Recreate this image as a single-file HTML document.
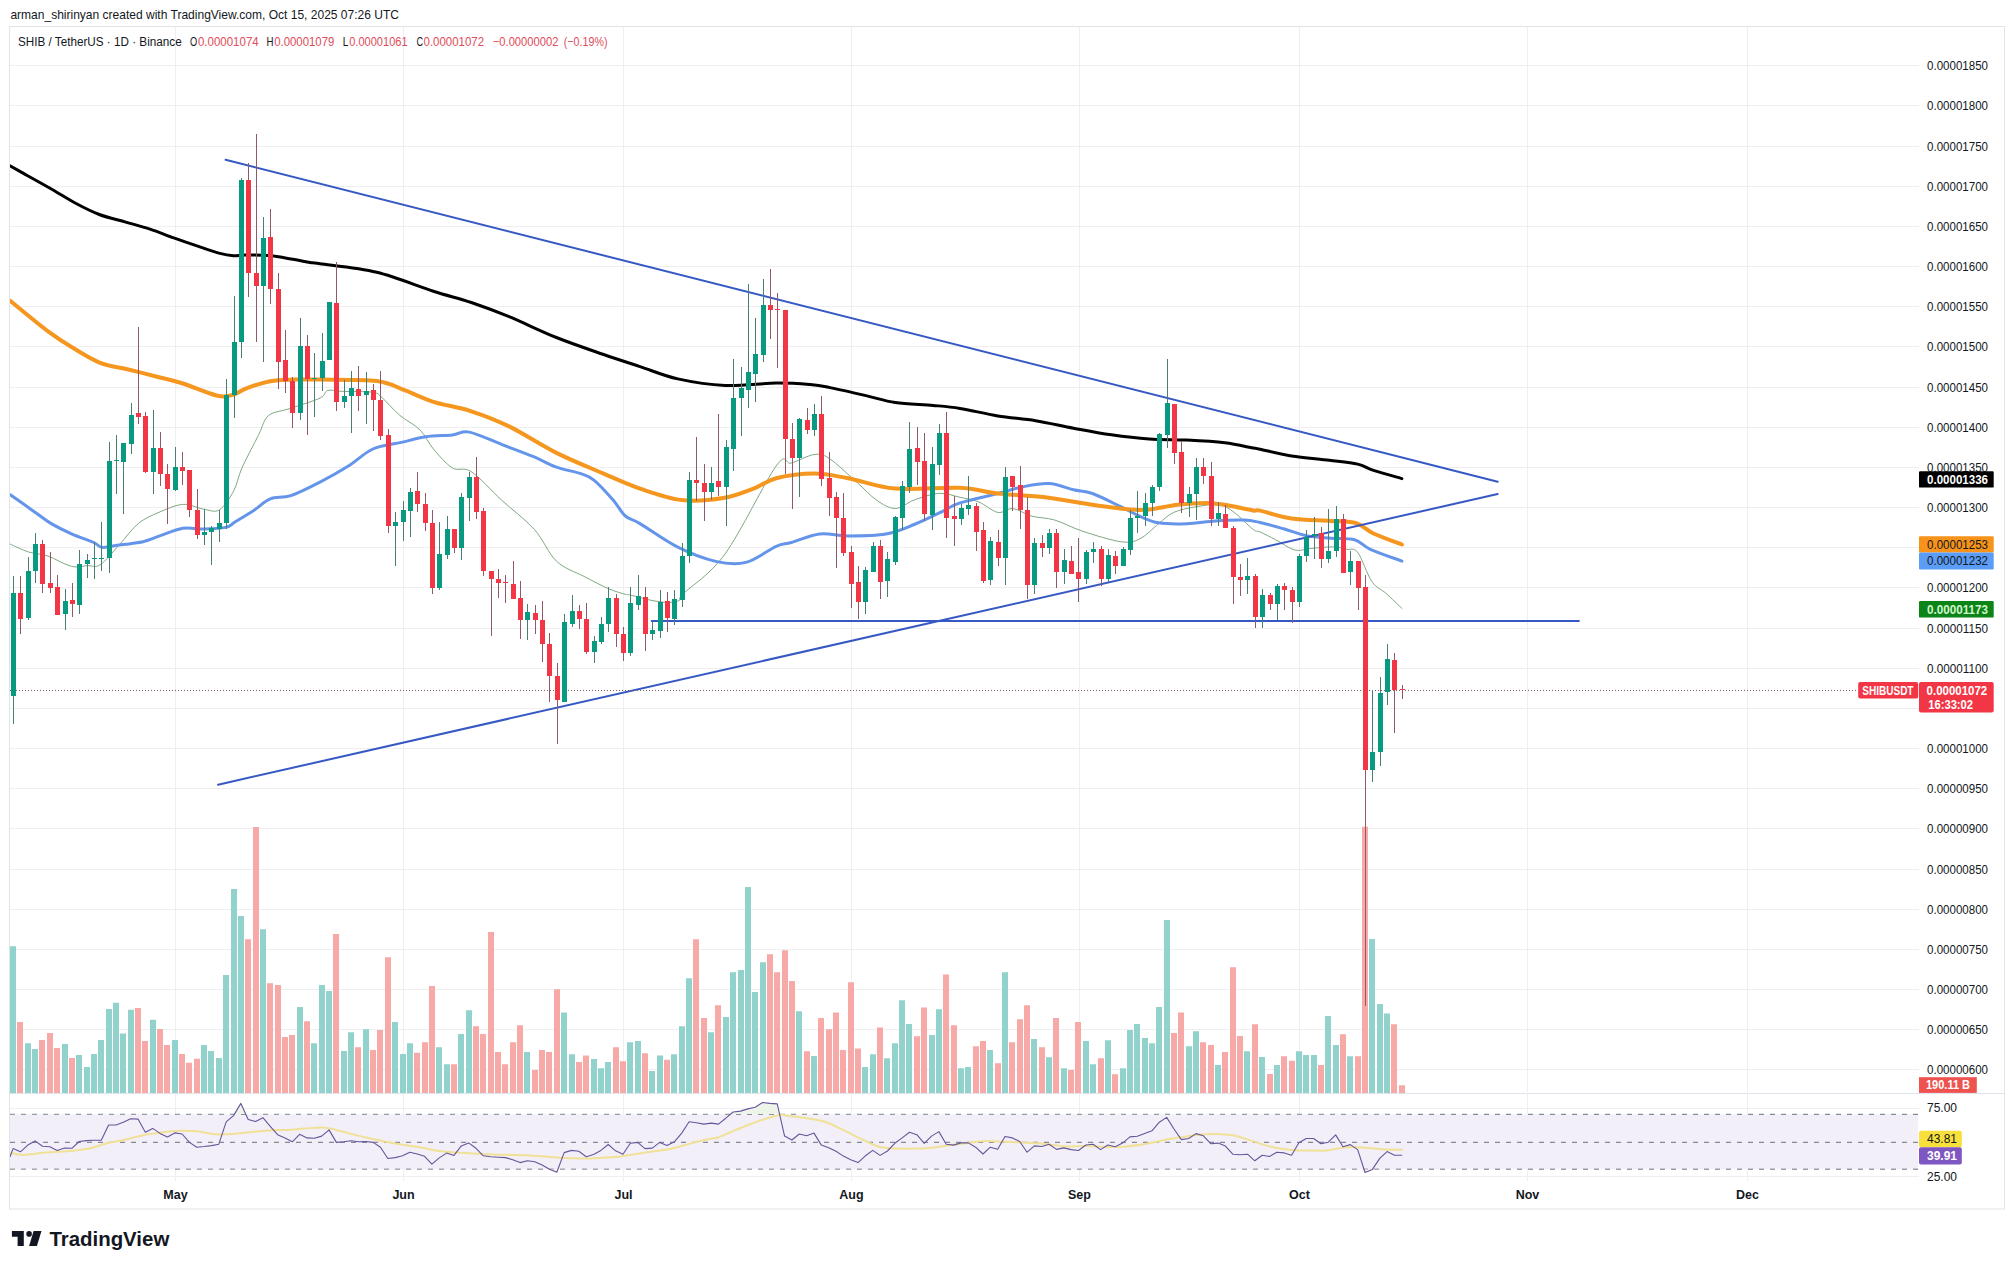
<!DOCTYPE html>
<html><head><meta charset="utf-8"><title>SHIBUSDT chart</title>
<style>html,body{margin:0;padding:0;background:#fff;width:2014px;height:1269px;overflow:hidden;position:relative;font-family:"Liberation Sans",sans-serif}</style>
</head><body>
<svg width="2014" height="1269" viewBox="0 0 2014 1269" style="position:absolute;left:0;top:0;font-family:'Liberation Sans', sans-serif">
<rect x="0" y="0" width="2014" height="1269" fill="#ffffff"/>
<defs><clipPath id="cp"><rect x="10" y="27" width="1908" height="1066"/></clipPath><clipPath id="cr"><rect x="10" y="1094" width="1908" height="86"/></clipPath></defs>
<rect x="9.5" y="26.5" width="1995" height="1182.5" fill="none" stroke="#e2e3e7" stroke-width="1"/>
<path d="M10,1069.5 H1919 M10,1029.5 H1919 M10,989.5 H1919 M10,949.5 H1919 M10,909.5 H1919 M10,869.5 H1919 M10,828.5 H1919 M10,788.5 H1919 M10,748.5 H1919 M10,708.5 H1919 M10,668.5 H1919 M10,628.5 H1919 M10,587.5 H1919 M10,547.5 H1919 M10,507.5 H1919 M10,467.5 H1919 M10,427.5 H1919 M10,387.5 H1919 M10,346.5 H1919 M10,306.5 H1919 M10,266.5 H1919 M10,226.5 H1919 M10,186.5 H1919 M10,146.5 H1919 M10,105.5 H1919 M10,65.5 H1919 M10,1108.5 H1919 M10,1176.5 H1919 M175.5,27 V1092 M175.5,1094 V1181 M403.5,27 V1092 M403.5,1094 V1181 M623.5,27 V1092 M623.5,1094 V1181 M851.5,27 V1092 M851.5,1094 V1181 M1079.5,27 V1092 M1079.5,1094 V1181 M1299.5,27 V1092 M1299.5,1094 V1181 M1527.5,27 V1092 M1527.5,1094 V1181 M1747.5,27 V1092 M1747.5,1094 V1181" stroke="#efeff2" stroke-width="1" fill="none"/>
<path d="M10,1093.5 H2004" stroke="#e0e3eb" stroke-width="1"/>
<rect x="10" y="1114.3" width="1908" height="54.9" fill="#f2eff9"/>
<path d="M10,1114.3 H1918" stroke="#6c6f7a" stroke-width="1" stroke-dasharray="5,6"/>
<path d="M10,1142.3 H1918" stroke="#6c6f7a" stroke-width="1" stroke-dasharray="5,6"/>
<path d="M10,1169.2 H1918" stroke="#6c6f7a" stroke-width="1" stroke-dasharray="5,6"/>
<path d="M10,946.2 H16 V1093 H10 Z M25,1043.3 H31 V1093 H25 Z M32,1049 H38 V1093 H32 Z M62,1044 H68 V1093 H62 Z M76,1055 H82 V1093 H76 Z M84,1067.1 H90 V1093 H84 Z M91,1053.9 H97 V1093 H91 Z M98,1040 H104 V1093 H98 Z M106,1009.1 H112 V1093 H106 Z M113,1002.7 H119 V1093 H113 Z M120,1033.6 H126 V1093 H120 Z M128,1009.8 H134 V1093 H128 Z M150,1019.7 H156 V1093 H150 Z M172,1040 H178 V1093 H172 Z M201,1045.1 H207 V1093 H201 Z M208,1051 H214 V1093 H208 Z M216,1057.9 H222 V1093 H216 Z M223,974.9 H229 V1093 H223 Z M231,889.1 H237 V1093 H231 Z M238,916 H244 V1093 H238 Z M260,929.2 H266 V1093 H260 Z M297,1007.1 H303 V1093 H297 Z M311,1043.3 H317 V1093 H311 Z M319,985 H325 V1093 H319 Z M326,991 H332 V1093 H326 Z M341,1051 H347 V1093 H341 Z M348,1032.3 H354 V1093 H348 Z M363,1029.2 H369 V1093 H363 Z M392,1021.9 H398 V1093 H392 Z M400,1053.9 H406 V1093 H400 Z M407,1043.3 H413 V1093 H407 Z M436,1047.3 H442 V1093 H436 Z M444,1064.3 H450 V1093 H444 Z M458,1034 H464 V1093 H458 Z M466,1010.2 H472 V1093 H466 Z M524,1052.1 H530 V1093 H524 Z M561,1012.4 H567 V1093 H561 Z M569,1054.3 H575 V1093 H569 Z M591,1059 H597 V1093 H591 Z M598,1068.2 H604 V1093 H598 Z M605,1062.1 H611 V1093 H605 Z M627,1042.2 H633 V1093 H627 Z M635,1041.1 H641 V1093 H635 Z M649,1070.9 H655 V1093 H649 Z M657,1055.4 H663 V1093 H657 Z M671,1054.3 H677 V1093 H671 Z M679,1026.3 H685 V1093 H679 Z M686,978.2 H692 V1093 H686 Z M708,1032.3 H714 V1093 H708 Z M723,1017 H729 V1093 H723 Z M730,972.3 H736 V1093 H730 Z M738,970 H744 V1093 H738 Z M745,886.9 H751 V1093 H745 Z M752,992.1 H758 V1093 H752 Z M760,962.3 H766 V1093 H760 Z M796,1011.3 H802 V1093 H796 Z M811,1056.1 H817 V1093 H811 Z M862,1067.1 H868 V1093 H862 Z M870,1054.3 H876 V1093 H870 Z M884,1058.3 H890 V1093 H884 Z M892,1043.3 H898 V1093 H892 Z M899,1000.3 H905 V1093 H899 Z M906,1024.1 H912 V1093 H906 Z M929,1035.1 H935 V1093 H929 Z M936,1009.3 H942 V1093 H936 Z M958,1068.2 H964 V1093 H958 Z M965,1067.1 H971 V1093 H965 Z M987,1050.1 H993 V1093 H987 Z M1002,972.3 H1008 V1093 H1002 Z M1031,1039.1 H1037 V1093 H1031 Z M1046,1057.2 H1052 V1093 H1046 Z M1061,1068.2 H1067 V1093 H1061 Z M1083,1041.1 H1089 V1093 H1083 Z M1090,1064.3 H1096 V1093 H1090 Z M1105,1040.2 H1111 V1093 H1105 Z M1120,1068.2 H1126 V1093 H1120 Z M1127,1030.1 H1133 V1093 H1127 Z M1134,1024.1 H1140 V1093 H1134 Z M1142,1038 H1148 V1093 H1142 Z M1149,1043.3 H1155 V1093 H1149 Z M1156,1007.1 H1162 V1093 H1156 Z M1164,920 H1170 V1093 H1164 Z M1186,1046.2 H1192 V1093 H1186 Z M1193,1031.2 H1199 V1093 H1193 Z M1215,1065.1 H1221 V1093 H1215 Z M1244,1051.2 H1250 V1093 H1244 Z M1259,1057 H1265 V1093 H1259 Z M1274,1065.1 H1280 V1093 H1274 Z M1296,1051.2 H1302 V1093 H1296 Z M1303,1055 H1309 V1093 H1303 Z M1311,1055 H1317 V1093 H1311 Z M1325,1015.9 H1331 V1093 H1325 Z M1333,1044.9 H1339 V1093 H1333 Z M1347,1056.2 H1353 V1093 H1347 Z M1369,938.9 H1375 V1093 H1369 Z M1377,1004 H1383 V1093 H1377 Z M1384,1013.4 H1390 V1093 H1384 Z" fill="#92d2cc"/>
<path d="M17,1021.9 H23 V1093 H17 Z M39,1040 H45 V1093 H39 Z M47,1032.9 H53 V1093 H47 Z M54,1047.9 H60 V1093 H54 Z M69,1057.9 H75 V1093 H69 Z M135,1008 H141 V1093 H135 Z M142,1041.1 H148 V1093 H142 Z M157,1029 H163 V1093 H157 Z M164,1045.1 H170 V1093 H164 Z M179,1053.9 H185 V1093 H179 Z M186,1062.7 H192 V1093 H186 Z M194,1058.7 H200 V1093 H194 Z M245,939.2 H251 V1093 H245 Z M253,827.1 H259 V1093 H253 Z M267,983.3 H273 V1093 H267 Z M275,985 H281 V1093 H275 Z M282,1036.9 H288 V1093 H282 Z M289,1035.1 H295 V1093 H289 Z M304,1021.2 H310 V1093 H304 Z M333,934.1 H339 V1093 H333 Z M355,1047.3 H361 V1093 H355 Z M370,1050.1 H376 V1093 H370 Z M377,1030.1 H383 V1093 H377 Z M385,957.2 H391 V1093 H385 Z M414,1052.8 H420 V1093 H414 Z M422,1042.2 H428 V1093 H422 Z M429,985.9 H435 V1093 H429 Z M451,1064.3 H457 V1093 H451 Z M473,1026.3 H479 V1093 H473 Z M480,1034 H486 V1093 H480 Z M488,932.1 H494 V1093 H488 Z M495,1052.1 H501 V1093 H495 Z M502,1064.3 H508 V1093 H502 Z M510,1042.2 H516 V1093 H510 Z M517,1025.2 H523 V1093 H517 Z M532,1070 H538 V1093 H532 Z M539,1050.1 H545 V1093 H539 Z M546,1052.1 H552 V1093 H546 Z M554,989.2 H560 V1093 H554 Z M576,1062.1 H582 V1093 H576 Z M583,1055.4 H589 V1093 H583 Z M613,1047.3 H619 V1093 H613 Z M620,1061.2 H626 V1093 H620 Z M642,1053.2 H648 V1093 H642 Z M664,1059.8 H670 V1093 H664 Z M693,939.2 H699 V1093 H693 Z M701,1018.1 H707 V1093 H701 Z M715,1005.3 H721 V1093 H715 Z M767,954.2 H773 V1093 H767 Z M774,972.3 H780 V1093 H774 Z M782,950.2 H788 V1093 H782 Z M789,981.1 H795 V1093 H789 Z M804,1051.2 H810 V1093 H804 Z M818,1018.1 H824 V1093 H818 Z M826,1029.2 H832 V1093 H826 Z M833,1012.4 H839 V1093 H833 Z M840,1050.1 H846 V1093 H840 Z M848,982.2 H854 V1093 H848 Z M855,1048.4 H861 V1093 H855 Z M877,1027.4 H883 V1093 H877 Z M914,1036.2 H920 V1093 H914 Z M921,1007.6 H927 V1093 H921 Z M943,974.5 H949 V1093 H943 Z M951,1025.2 H957 V1093 H951 Z M973,1046.2 H979 V1093 H973 Z M980,1041.1 H986 V1093 H980 Z M995,1063.2 H1001 V1093 H995 Z M1009,1042.2 H1015 V1093 H1009 Z M1017,1019.2 H1023 V1093 H1017 Z M1024,1005.3 H1030 V1093 H1024 Z M1039,1047.3 H1045 V1093 H1039 Z M1053,1018.1 H1059 V1093 H1053 Z M1068,1070 H1074 V1093 H1068 Z M1075,1021.9 H1081 V1093 H1075 Z M1098,1058.3 H1104 V1093 H1098 Z M1112,1074.2 H1118 V1093 H1112 Z M1171,1032.9 H1177 V1093 H1171 Z M1178,1012.4 H1184 V1093 H1178 Z M1200,1042.3 H1206 V1093 H1200 Z M1208,1045 H1214 V1093 H1208 Z M1222,1052 H1228 V1093 H1222 Z M1230,967.2 H1236 V1093 H1230 Z M1237,1036 H1243 V1093 H1237 Z M1252,1024.2 H1258 V1093 H1252 Z M1267,1073.9 H1273 V1093 H1267 Z M1281,1056.2 H1287 V1093 H1281 Z M1289,1060.8 H1295 V1093 H1289 Z M1318,1065.1 H1324 V1093 H1318 Z M1340,1034.3 H1346 V1093 H1340 Z M1355,1056.2 H1361 V1093 H1355 Z M1362,826.7 H1368 V1093 H1362 Z M1391,1024.2 H1397 V1093 H1391 Z M1399,1085.2 H1405 V1093 H1399 Z" fill="#f7a9a7"/>
<g clip-path="url(#cp)">
<path d="M10.3,544.1 C13.35,545.42 22.37,550.02 28.6,552 C34.83,553.98 40.55,553.6 47.7,556 C54.85,558.4 64.88,564.8 71.5,566.4 C78.12,568 82.62,565.87 87.4,565.6 C92.18,565.33 94.9,568.25 100.2,564.8 C105.5,561.35 112.85,551.78 119.2,544.9 C125.55,538.02 131.67,528.93 138.3,523.5 C144.93,518.07 151.58,515.48 159,512.3 C166.42,509.12 175.38,504.93 182.8,504.4 C190.22,503.87 197.4,508.18 203.5,509.1 C209.6,510.02 214.37,512.93 219.4,509.9 C224.43,506.87 229.98,497.78 233.7,490.9 C237.42,484.02 237.98,477.08 241.7,468.6 C245.42,460.12 252.95,446.13 256,440 C259.05,433.87 257.87,435.92 260,431.8 C262.13,427.68 263.8,419.18 268.8,415.3 C273.8,411.42 281.43,411.38 290,408.5 C298.57,405.62 313.93,401 320.2,398 C326.47,395 323.85,391.6 327.6,390.5 C331.35,389.4 335.15,391.1 342.7,391.4 C350.25,391.7 366.28,391.2 372.9,392.3 C379.52,393.4 377.98,394.22 382.4,398 C386.82,401.78 393.1,409.65 399.4,415 C405.7,420.35 414.53,424.43 420.2,430.1 C425.87,435.77 428.03,442.7 433.4,449 C438.77,455.3 446.08,464.12 452.4,467.9 C458.72,471.68 463.12,466.35 471.3,471.7 C479.48,477.05 490.98,490.37 501.5,500 C512.02,509.63 525.23,519.3 534.4,529.5 C543.57,539.7 548.23,553.38 556.5,561.2 C564.77,569.02 575.28,571.8 584,576.4 C592.72,581 601.9,585.82 608.8,588.8 C615.7,591.78 621.7,593.23 625.4,594.3 C629.1,595.37 626.38,594.13 631,595.2 C635.62,596.27 646.65,599.5 653.1,600.7 C659.55,601.9 665.28,602.48 669.7,602.4 C674.12,602.32 677.3,601.67 679.6,600.2 C681.9,598.73 675.92,601.32 683.5,593.6 C691.08,585.88 709.65,575.18 725.1,553.9 C740.55,532.62 765.17,481.03 776.2,465.9 C787.23,450.77 785,464.98 791.3,463.1 C797.6,461.22 807.7,455.4 814,454.6 C820.3,453.8 821.85,453.58 829.1,458.3 C836.35,463.02 849.62,475.95 857.5,482.9 C865.38,489.85 870.1,495.73 876.4,500 C882.7,504.27 889,508.5 895.3,508.5 C901.6,508.5 906.95,502.53 914.2,500 C921.45,497.47 931.17,493.75 938.8,493.3 C946.43,492.85 953.32,495.85 960,497.3 C966.68,498.75 972.6,499.48 978.9,502 C985.2,504.52 992.12,511.3 997.8,512.4 C1003.48,513.5 1007.32,507.97 1013,508.6 C1018.68,509.23 1024.97,514.3 1031.9,516.2 C1038.83,518.1 1046.1,517.48 1054.6,520 C1063.1,522.52 1071.87,527.68 1082.9,531.3 C1093.93,534.92 1111.33,540.43 1120.8,541.7 C1130.27,542.97 1133.4,541.9 1139.7,538.9 C1146,535.9 1152.93,528.12 1158.6,523.7 C1164.27,519.28 1167.4,515.23 1173.7,512.4 C1180,509.57 1188.83,507.97 1196.4,506.7 C1203.97,505.43 1212.8,503.85 1219.1,504.8 C1225.4,505.75 1228.53,508.3 1234.2,512.4 C1239.87,516.5 1248.8,526.15 1253.1,529.4 C1257.4,532.65 1256.22,530.17 1260,531.9 C1263.78,533.63 1270.02,536.78 1275.8,539.8 C1281.58,542.82 1288.93,548.55 1294.7,550 C1300.47,551.45 1304.1,549.02 1310.4,548.5 C1316.7,547.98 1326.45,546.77 1332.5,546.9 C1338.55,547.03 1342.5,548.38 1346.7,549.3 C1350.9,550.22 1353.5,547.02 1357.7,552.4 C1361.9,557.78 1367.17,574.77 1371.9,581.6 C1376.63,588.43 1381.1,588.93 1386.1,593.4 C1391.1,597.87 1399.27,605.9 1401.9,608.4" fill="none" stroke="#7fa882" stroke-width="1" stroke-linejoin="round" stroke-linecap="round" />
<path d="M10.3,494.8 C13.88,497.32 25.03,505.13 31.8,509.9 C38.57,514.67 44.28,519.42 50.9,523.4 C57.52,527.38 64.35,530.62 71.5,533.8 C78.65,536.98 88.77,540.25 93.8,542.5 C98.83,544.75 98.27,546.77 101.7,547.3 C105.13,547.83 107.5,546.63 114.4,545.7 C121.3,544.77 135.67,543.28 143.1,541.7 C150.53,540.12 152.38,538.45 159,536.2 C165.62,533.95 175.38,529.4 182.8,528.2 C190.22,527 196.33,529.13 203.5,529 C210.67,528.87 220.5,528.6 225.8,527.4 C231.1,526.2 230.53,524.72 235.3,521.8 C240.07,518.88 248.57,513.73 254.4,509.9 C260.23,506.07 264.22,501.18 270.3,498.8 C276.38,496.42 282.62,498.38 290.9,495.6 C299.18,492.82 310.42,487.03 320,482.1 C329.58,477.17 339.58,471.52 348.4,466 C357.22,460.48 364.08,452.93 372.9,449 C381.72,445.07 392.47,444.43 401.3,442.4 C410.13,440.37 417.38,438.05 425.9,436.8 C434.42,435.55 445.15,435.68 452.4,434.9 C459.65,434.12 461.22,430.52 469.4,432.1 C477.58,433.68 490.8,440.3 501.5,444.4 C512.2,448.5 524.45,452.92 533.6,456.7 C542.75,460.48 548.52,464.27 556.4,467.1 C564.28,469.93 574.6,471.5 580.9,473.7 C587.2,475.9 588.83,475.92 594.2,480.3 C599.57,484.68 607.9,494.05 613.1,500 C618.3,505.95 620.92,512.07 625.4,516 C629.88,519.93 631.27,518.4 640,523.6 C648.73,528.8 665.18,540.9 677.8,547.2 C690.42,553.5 704.35,558.87 715.7,561.4 C727.05,563.93 735.82,564.92 745.9,562.4 C755.98,559.88 768.63,549.62 776.2,546.3 C783.77,542.98 784.05,544.55 791.3,542.5 C798.55,540.45 810.25,535.1 819.7,534 C829.15,532.9 836.97,535.9 848,535.9 C859.03,535.9 874.87,535.9 885.9,534 C896.93,532.1 904.75,528.28 914.2,524.5 C923.65,520.72 934.97,514.9 942.6,511.3 C950.23,507.7 950.8,505.87 960,502.9 C969.2,499.93 987.4,496.17 997.8,493.5 C1008.2,490.83 1013.88,488.55 1022.4,486.9 C1030.92,485.25 1040.38,483.13 1048.9,483.6 C1057.42,484.07 1066.25,488.05 1073.5,489.7 C1080.75,491.35 1084.52,490.67 1092.4,493.5 C1100.28,496.33 1112.92,502.92 1120.8,506.7 C1128.68,510.48 1133.4,513.52 1139.7,516.2 C1146,518.88 1150.73,521.55 1158.6,522.8 C1166.47,524.05 1177.45,524.02 1186.9,523.7 C1196.35,523.38 1205.83,521.52 1215.3,520.9 C1224.77,520.28 1236.25,519.73 1243.7,520 C1251.15,520.27 1253.35,521.03 1260,522.5 C1266.65,523.97 1275.72,526.57 1283.6,528.8 C1291.48,531.03 1299.42,534.33 1307.3,535.9 C1315.18,537.47 1323.02,537.55 1330.9,538.2 C1338.78,538.85 1348.03,537.95 1354.6,539.8 C1361.17,541.65 1362.42,545.75 1370.3,549.3 C1378.18,552.85 1396.63,559.13 1401.9,561.1" fill="none" stroke="#6495ea" stroke-width="3" stroke-linejoin="round" stroke-linecap="round" />
<path d="M10.3,300.9 C12.55,302.75 17.57,306.97 23.8,312 C30.03,317.03 39.75,325.27 47.7,331.1 C55.65,336.93 62.75,341.7 71.5,347 C80.25,352.3 90.92,359.2 100.2,362.9 C109.48,366.6 117.4,366.82 127.2,369.2 C137,371.58 149.73,374.82 159,377.2 C168.27,379.58 174.85,380.98 182.8,383.5 C190.75,386.02 200.33,390.17 206.7,392.3 C213.07,394.43 216.5,395.9 221,396.3 C225.5,396.7 229.47,396.03 233.7,394.7 C237.93,393.37 240.3,390.55 246.4,388.3 C252.5,386.05 262.35,382.65 270.3,381.2 C278.25,379.75 285.78,379.87 294.1,379.6 C302.42,379.33 306.43,379.37 320.2,379.6 C333.97,379.83 362.55,379.2 376.7,381 C390.85,382.8 395.65,386.93 405.1,390.4 C414.55,393.87 422.37,398.32 433.4,401.8 C444.43,405.28 458.68,407.2 471.3,411.3 C483.92,415.4 494.92,419.47 509.1,426.4 C523.28,433.33 540.65,445.03 556.4,452.9 C572.15,460.77 589.67,467.65 603.6,473.6 C617.53,479.55 627,484.2 640,488.6 C653,493 667.73,498.42 681.6,500 C695.47,501.58 711.22,500 723.2,498.1 C735.18,496.2 744.67,491.92 753.5,488.6 C762.33,485.28 766.12,480.72 776.2,478.2 C786.28,475.68 802.03,473.5 814,473.5 C825.97,473.5 834.45,475.68 848,478.2 C861.55,480.72 876.63,487 895.3,488.6 C913.97,490.2 942.92,486.98 960,487.8 C977.08,488.62 983.62,491.92 997.8,493.5 C1011.98,495.08 1029.33,495.42 1045.1,497.3 C1060.87,499.18 1078.22,502.75 1092.4,504.8 C1106.58,506.85 1120.75,508.8 1130.2,509.6 C1139.65,510.4 1141.22,510.4 1149.1,509.6 C1156.98,508.8 1168.03,505.92 1177.5,504.8 C1186.97,503.68 1198.02,502.9 1205.9,502.9 C1213.78,502.9 1216.93,503.53 1224.8,504.8 C1232.67,506.07 1247.23,509.53 1253.1,510.5 C1258.97,511.47 1253.6,509.27 1260,510.6 C1266.4,511.93 1279.68,516.78 1291.5,518.5 C1303.32,520.22 1320.12,520.12 1330.9,520.9 C1341.68,521.68 1349.1,521.1 1356.2,523.2 C1363.3,525.3 1365.88,529.95 1373.5,533.5 C1381.12,537.05 1397.17,542.67 1401.9,544.5" fill="none" stroke="#f5961e" stroke-width="4" stroke-linejoin="round" stroke-linecap="round" />
<path d="M9.9,165.8 C11.57,166.73 13.28,167.7 19.9,171.4 C26.52,175.1 40.23,182.65 49.6,188 C58.97,193.35 67.82,199.08 76.1,203.5 C84.38,207.92 91.03,211.4 99.3,214.5 C107.57,217.6 117.25,219.67 125.7,222.1 C134.15,224.53 141.98,226.47 150,229.1 C158.02,231.73 165.85,235.05 173.8,237.9 C181.75,240.75 190.02,243.62 197.7,246.2 C205.38,248.78 213.95,251.82 219.9,253.4 C225.85,254.98 229.17,255.42 233.4,255.7 C237.63,255.98 239.35,255.12 245.3,255.1 C251.25,255.08 261.15,254.9 269.1,255.6 C277.05,256.3 286.18,258.15 293,259.3 C299.82,260.45 305.5,261.75 310,262.5 C314.5,263.25 308.88,262.17 320,263.8 C331.12,265.43 357.8,267.73 376.7,272.3 C395.6,276.87 417.63,286.17 433.4,291.2 C449.17,296.23 458.68,298.25 471.3,302.5 C483.92,306.75 494.92,310.87 509.1,316.7 C523.28,322.53 540.65,331.2 556.4,337.5 C572.15,343.8 589.67,349.65 603.6,354.5 C617.53,359.35 627.63,362.53 640,366.6 C652.37,370.67 663.62,375.75 677.8,378.9 C691.98,382.05 708.7,384.8 725.1,385.5 C741.5,386.2 762.02,383.25 776.2,383.1 C790.38,382.95 801.38,383.88 810.2,384.6 C819.02,385.32 819.65,385.52 829.1,387.4 C838.55,389.28 855.87,393.37 866.9,395.9 C877.93,398.43 884.27,401.02 895.3,402.6 C906.33,404.18 922.32,404.43 933.1,405.4 C943.88,406.37 949.22,406.65 960,408.4 C970.78,410.15 985.2,413.85 997.8,415.9 C1010.4,417.95 1022.98,418.65 1035.6,420.7 C1048.22,422.75 1060.88,425.85 1073.5,428.2 C1086.12,430.55 1098.7,433 1111.3,434.8 C1123.9,436.6 1136.5,438.12 1149.1,439 C1161.7,439.88 1174.28,439.47 1186.9,440.1 C1199.52,440.73 1213.77,441.47 1224.8,442.8 C1235.83,444.13 1247.23,447.03 1253.1,448.1 C1258.97,449.17 1253.6,447.9 1260,449.2 C1266.4,450.5 1279.93,454.07 1291.5,455.9 C1303.07,457.73 1318.37,458.83 1329.4,460.2 C1340.43,461.57 1350.35,462.4 1357.7,464.1 C1365.05,465.8 1366.13,467.98 1373.5,470.4 C1380.87,472.82 1397.17,477.23 1401.9,478.6" fill="none" stroke="#000000" stroke-width="3" stroke-linejoin="round" stroke-linecap="round" />
<path d="M225.6,159.8 L1497.7,481.7" stroke="#3558c4" stroke-width="2" stroke-linecap="round"/>
<path d="M218.1,784.7 L1497.7,494" stroke="#3558c4" stroke-width="2" stroke-linecap="round"/>
<path d="M651.7,621 L1578.9,621" stroke="#3558c4" stroke-width="2" stroke-linecap="round"/>
<path d="M10,690.5 H1858" stroke="#7f5a60" stroke-width="1" stroke-dasharray="1,2"/>
<path d="M13,576 H14 V724 H13 Z M28,557 H29 V620 H28 Z M35,533 H36 V583 H35 Z M65,589 H66 V630 H65 Z M79,550 H80 V614 H79 Z M87,554 H88 V578 H87 Z M94,542 H95 V579 H94 Z M101,522 H102 V571 H101 Z M109,442 H110 V573 H109 Z M116,435 H117 V494 H116 Z M123,443 H124 V514 H123 Z M131,403 H132 V454 H131 Z M153,410 H154 V494 H153 Z M175,447 H176 V491 H175 Z M204,509 H205 V545 H204 Z M211,526 H212 V565 H211 Z M219,510 H220 V542 H219 Z M226,379 H227 V529 H226 Z M234,296 H235 V418 H234 Z M241,178 H242 V358 H241 Z M263,217 H264 V362 H263 Z M300,318 H301 V420 H300 Z M314,353 H315 V417 H314 Z M322,333 H323 V391 H322 Z M329,302 H330 V360 H329 Z M344,380 H345 V408 H344 Z M351,371 H352 V433 H351 Z M366,372 H367 V424 H366 Z M395,512 H396 V566 H395 Z M403,501 H404 V541 H403 Z M410,488 H411 V537 H410 Z M439,522 H440 V590 H439 Z M447,516 H448 V559 H447 Z M461,493 H462 V560 H461 Z M469,472 H470 V521 H469 Z M527,604 H528 V640 H527 Z M564,614 H565 V702 H564 Z M572,595 H573 V627 H572 Z M594,636 H595 V663 H594 Z M601,617 H602 V644 H601 Z M608,587 H609 V632 H608 Z M630,587 H631 V656 H630 Z M638,575 H639 V610 H638 Z M652,621 H653 V640 H652 Z M660,590 H661 V638 H660 Z M674,590 H675 V625 H674 Z M682,543 H683 V607 H682 Z M689,472 H690 V563 H689 Z M711,467 H712 V500 H711 Z M726,440 H727 V526 H726 Z M733,359 H734 V471 H733 Z M741,367 H742 V436 H741 Z M748,284 H749 V408 H748 Z M755,318 H756 V402 H755 Z M763,279 H764 V362 H763 Z M799,418 H800 V497 H799 Z M814,404 H815 V436 H814 Z M865,567 H866 V614 H865 Z M873,542 H874 V572 H873 Z M887,552 H888 V597 H887 Z M895,516 H896 V565 H895 Z M902,481 H903 V530 H902 Z M909,422 H910 V493 H909 Z M932,447 H933 V530 H932 Z M939,424 H940 V475 H939 Z M961,504 H962 V525 H961 Z M968,476 H969 V515 H968 Z M990,537 H991 V585 H990 Z M1005,467 H1006 V585 H1005 Z M1034,538 H1035 V594 H1034 Z M1049,529 H1050 V554 H1049 Z M1064,549 H1065 V584 H1064 Z M1086,550 H1087 V584 H1086 Z M1093,542 H1094 V563 H1093 Z M1108,549 H1109 V582 H1108 Z M1123,547 H1124 V566 H1123 Z M1130,510 H1131 V555 H1130 Z M1137,491 H1138 V533 H1137 Z M1145,493 H1146 V526 H1145 Z M1152,485 H1153 V516 H1152 Z M1159,433 H1160 V491 H1159 Z M1167,359 H1168 V448 H1167 Z M1189,487 H1190 V517 H1189 Z M1196,458 H1197 V520 H1196 Z M1218,502 H1219 V526 H1218 Z M1247,558 H1248 V594 H1247 Z M1262,589 H1263 V628 H1262 Z M1277,584 H1278 V620 H1277 Z M1299,554 H1300 V607 H1299 Z M1306,530 H1307 V562 H1306 Z M1314,517 H1315 V559 H1314 Z M1328,509 H1329 V563 H1328 Z M1336,506 H1337 V557 H1336 Z M1350,551 H1351 V585 H1350 Z M1372,690 H1373 V782 H1372 Z M1380,677 H1381 V766 H1380 Z M1387,644 H1388 V705 H1387 Z" fill="#4a7d73"/>
<path d="M20,576 H21 V634 H20 Z M42,540 H43 V593 H42 Z M50,552 H51 V593 H50 Z M57,575 H58 V615 H57 Z M72,583 H73 V617 H72 Z M138,327 H139 V424 H138 Z M145,412 H146 V473 H145 Z M160,432 H161 V486 H160 Z M167,464 H168 V524 H167 Z M182,452 H183 V485 H182 Z M189,470 H190 V517 H189 Z M197,489 H198 V539 H197 Z M248,163 H249 V297 H248 Z M256,134 H257 V342 H256 Z M270,209 H271 V304 H270 Z M278,273 H279 V389 H278 Z M285,330 H286 V393 H285 Z M292,377 H293 V428 H292 Z M307,335 H308 V435 H307 Z M336,262 H337 V411 H336 Z M358,366 H359 V411 H358 Z M373,384 H374 V431 H373 Z M380,371 H381 V440 H380 Z M388,429 H389 V533 H388 Z M417,472 H418 V512 H417 Z M425,493 H426 V531 H425 Z M432,510 H433 V594 H432 Z M454,529 H455 V553 H454 Z M476,457 H477 V519 H476 Z M483,508 H484 V576 H483 Z M491,571 H492 V636 H491 Z M498,569 H499 V598 H498 Z M505,575 H506 V603 H505 Z M513,561 H514 V599 H513 Z M520,581 H521 V639 H520 Z M535,605 H536 V634 H535 Z M542,601 H543 V662 H542 Z M549,633 H550 V702 H549 Z M557,663 H558 V744 H557 Z M579,605 H580 V629 H579 Z M586,603 H587 V654 H586 Z M616,594 H617 V647 H616 Z M623,627 H624 V661 H623 Z M645,587 H646 V651 H645 Z M667,592 H668 V632 H667 Z M696,437 H697 V501 H696 Z M704,464 H705 V521 H704 Z M718,414 H719 V496 H718 Z M770,269 H771 V339 H770 Z M777,293 H778 V368 H777 Z M785,310 H786 V474 H785 Z M792,423 H793 V509 H792 Z M807,408 H808 V434 H807 Z M821,396 H822 V486 H821 Z M829,452 H830 V516 H829 Z M836,492 H837 V568 H836 Z M843,493 H844 V556 H843 Z M851,546 H852 V608 H851 Z M858,566 H859 V619 H858 Z M880,540 H881 V599 H880 Z M917,427 H918 V485 H917 Z M924,433 H925 V521 H924 Z M946,412 H947 V538 H946 Z M954,496 H955 V546 H954 Z M976,503 H977 V551 H976 Z M983,522 H984 V583 H983 Z M998,530 H999 V566 H998 Z M1012,476 H1013 V511 H1012 Z M1020,466 H1021 V529 H1020 Z M1027,497 H1028 V599 H1027 Z M1042,535 H1043 V557 H1042 Z M1056,529 H1057 V588 H1056 Z M1071,546 H1072 V574 H1071 Z M1078,538 H1079 V602 H1078 Z M1101,546 H1102 V586 H1101 Z M1115,551 H1116 V574 H1115 Z M1174,404 H1175 V464 H1174 Z M1181,442 H1182 V513 H1181 Z M1203,458 H1204 V484 H1203 Z M1211,462 H1212 V526 H1211 Z M1225,505 H1226 V528 H1225 Z M1233,526 H1234 V604 H1233 Z M1240,564 H1241 V596 H1240 Z M1255,574 H1256 V628 H1255 Z M1270,593 H1271 V610 H1270 Z M1284,583 H1285 V610 H1284 Z M1292,587 H1293 V623 H1292 Z M1321,527 H1322 V568 H1321 Z M1343,514 H1344 V573 H1343 Z M1358,561 H1359 V610 H1358 Z M1365,575 H1366 V1006 H1365 Z M1394,653 H1395 V733 H1394 Z M1402,685 H1403 V699 H1402 Z" fill="#8f5a66"/>
<path d="M11,593 H16 V696 H11 Z M26,571 H31 V618 H26 Z M33,544 H38 V571 H33 Z M63,601 H68 V614 H63 Z M77,564 H82 V605 H77 Z M85,560 H90 V564 H85 Z M92,558 H97 V559 H92 Z M99,558 H104 V559 H99 Z M107,461 H112 V558 H107 Z M114,460 H119 V461 H114 Z M121,443 H126 V462 H121 Z M129,415 H134 V444 H129 Z M151,448 H156 V472 H151 Z M173,467 H178 V490 H173 Z M202,532 H207 V535 H202 Z M209,528 H214 V532 H209 Z M217,523 H222 V529 H217 Z M224,395 H229 V523 H224 Z M232,342 H237 V395 H232 Z M239,180 H244 V342 H239 Z M261,238 H266 V286 H261 Z M298,346 H303 V413 H298 Z M312,378 H317 V379 H312 Z M320,361 H325 V378 H320 Z M327,302 H332 V360 H327 Z M342,396 H347 V402 H342 Z M349,388 H354 V396 H349 Z M364,391 H369 V395 H364 Z M393,522 H398 V526 H393 Z M401,510 H406 V522 H401 Z M408,492 H413 V511 H408 Z M437,554 H442 V588 H437 Z M445,529 H450 V555 H445 Z M459,497 H464 V548 H459 Z M467,477 H472 V498 H467 Z M525,612 H530 V620 H525 Z M562,622 H567 V702 H562 Z M570,611 H575 V624 H570 Z M592,641 H597 V652 H592 Z M599,624 H604 V642 H599 Z M606,598 H611 V624 H606 Z M628,603 H633 V653 H628 Z M636,596 H641 V605 H636 Z M650,630 H655 V634 H650 Z M658,602 H663 V631 H658 Z M672,599 H677 V619 H672 Z M680,556 H685 V600 H680 Z M687,480 H692 V556 H687 Z M709,483 H714 V492 H709 Z M724,447 H729 V487 H724 Z M731,398 H736 V449 H731 Z M739,388 H744 V398 H739 Z M746,372 H751 V390 H746 Z M753,354 H758 V374 H753 Z M761,305 H766 V355 H761 Z M797,419 H802 V458 H797 Z M812,414 H817 V430 H812 Z M863,570 H868 V602 H863 Z M871,546 H876 V572 H871 Z M885,559 H890 V581 H885 Z M893,517 H898 V562 H893 Z M900,486 H905 V518 H900 Z M907,449 H912 V487 H907 Z M930,464 H935 V515 H930 Z M937,433 H942 V465 H937 Z M959,508 H964 V519 H959 Z M966,505 H971 V509 H966 Z M988,541 H993 V580 H988 Z M1003,477 H1008 V558 H1003 Z M1032,543 H1037 V585 H1032 Z M1047,533 H1052 V548 H1047 Z M1062,560 H1067 V572 H1062 Z M1084,552 H1089 V579 H1084 Z M1091,549 H1096 V552 H1091 Z M1106,555 H1111 V579 H1106 Z M1121,549 H1126 V566 H1121 Z M1128,518 H1133 V550 H1128 Z M1135,516 H1140 V518 H1135 Z M1143,503 H1148 V516 H1143 Z M1150,487 H1155 V503 H1150 Z M1157,434 H1162 V487 H1157 Z M1165,403 H1170 V435 H1165 Z M1187,494 H1192 V503 H1187 Z M1194,467 H1199 V494 H1194 Z M1216,513 H1221 V519 H1216 Z M1245,576 H1250 V580 H1245 Z M1260,595 H1265 V617 H1260 Z M1275,586 H1280 V604 H1275 Z M1297,556 H1302 V602 H1297 Z M1304,537 H1309 V556 H1304 Z M1312,534 H1317 V536 H1312 Z M1326,551 H1331 V559 H1326 Z M1334,519 H1339 V551 H1334 Z M1348,561 H1353 V572 H1348 Z M1370,752 H1375 V770 H1370 Z M1378,693 H1383 V752 H1378 Z M1385,659 H1390 V692 H1385 Z" fill="#089981"/>
<path d="M18,593 H23 V619 H18 Z M40,544 H45 V584 H40 Z M48,583 H53 V588 H48 Z M55,587 H60 V615 H55 Z M70,600 H75 V604 H70 Z M136,413 H141 V417 H136 Z M143,416 H148 V472 H143 Z M158,448 H163 V474 H158 Z M165,474 H170 V489 H165 Z M180,467 H185 V471 H180 Z M187,470 H192 V510 H187 Z M195,510 H200 V535 H195 Z M246,180 H251 V273 H246 Z M254,273 H259 V286 H254 Z M268,237 H273 V289 H268 Z M276,289 H281 V362 H276 Z M283,360 H288 V381 H283 Z M290,381 H295 V413 H290 Z M305,346 H310 V379 H305 Z M334,303 H339 V402 H334 Z M356,389 H361 V396 H356 Z M371,390 H376 V400 H371 Z M378,400 H383 V436 H378 Z M386,435 H391 V526 H386 Z M415,491 H420 V504 H415 Z M423,504 H428 V523 H423 Z M430,523 H435 V588 H430 Z M452,529 H457 V548 H452 Z M474,477 H479 V512 H474 Z M481,511 H486 V571 H481 Z M489,571 H494 V579 H489 Z M496,579 H501 V583 H496 Z M503,582 H508 V583 H503 Z M511,584 H516 V599 H511 Z M518,598 H523 V620 H518 Z M533,613 H538 V620 H533 Z M540,620 H545 V644 H540 Z M547,644 H552 V676 H547 Z M555,676 H560 V700 H555 Z M577,611 H582 V619 H577 Z M584,619 H589 V652 H584 Z M614,598 H619 V634 H614 Z M621,634 H626 V653 H621 Z M643,597 H648 V634 H643 Z M665,601 H670 V618 H665 Z M694,480 H699 V483 H694 Z M702,483 H707 V492 H702 Z M716,481 H721 V487 H716 Z M768,305 H773 V310 H768 Z M775,309 H780 V310 H775 Z M783,310 H788 V439 H783 Z M790,439 H795 V458 H790 Z M805,420 H810 V430 H805 Z M819,414 H824 V479 H819 Z M827,478 H832 V498 H827 Z M834,497 H839 V518 H834 Z M841,518 H846 V553 H841 Z M849,552 H854 V584 H849 Z M856,582 H861 V602 H856 Z M878,546 H883 V582 H878 Z M915,448 H920 V462 H915 Z M922,461 H927 V514 H922 Z M944,433 H949 V518 H944 Z M952,516 H957 V519 H952 Z M974,506 H979 V532 H974 Z M981,530 H986 V581 H981 Z M996,542 H1001 V558 H996 Z M1010,476 H1015 V487 H1010 Z M1018,485 H1023 V510 H1018 Z M1025,510 H1030 V585 H1025 Z M1040,543 H1045 V548 H1040 Z M1054,533 H1059 V572 H1054 Z M1069,561 H1074 V574 H1069 Z M1076,572 H1081 V579 H1076 Z M1099,549 H1104 V579 H1099 Z M1113,556 H1118 V566 H1113 Z M1172,404 H1177 V453 H1172 Z M1179,452 H1184 V503 H1179 Z M1201,467 H1206 V476 H1201 Z M1209,476 H1214 V519 H1209 Z M1223,514 H1228 V528 H1223 Z M1231,528 H1236 V577 H1231 Z M1238,577 H1243 V580 H1238 Z M1253,576 H1258 V617 H1253 Z M1268,595 H1273 V604 H1268 Z M1282,586 H1287 V590 H1282 Z M1290,590 H1295 V602 H1290 Z M1319,533 H1324 V559 H1319 Z M1341,519 H1346 V573 H1341 Z M1356,561 H1361 V588 H1356 Z M1363,587 H1368 V770 H1363 Z M1392,660 H1397 V690 H1392 Z M1400,689 H1405 V690 H1400 Z" fill="#f23645"/>
</g>
<g clip-path="url(#cr)">
<path d="M10,1152.6 C12.17,1152.98 17.17,1154.9 23,1154.9 C28.83,1154.9 36.83,1153.28 45,1152.6 C53.17,1151.92 64.67,1151.47 72,1150.8 C79.33,1150.13 83.17,1149.85 89,1148.6 C94.83,1147.35 101,1144.78 107,1143.3 C113,1141.82 119,1141.05 125,1139.7 C131,1138.35 137,1136.4 143,1135.2 C149,1134 155,1133.23 161,1132.5 C167,1131.77 173,1131 179,1130.8 C185,1130.6 191,1130.72 197,1131.3 C203,1131.88 209.17,1133.85 215,1134.3 C220.83,1134.75 226.17,1134.35 232,1134 C237.83,1133.65 244,1132.8 250,1132.2 C256,1131.6 262,1130.78 268,1130.4 C274,1130.02 280,1130.2 286,1129.9 C292,1129.6 298,1129 304,1128.6 C310,1128.2 316.67,1127.28 322,1127.5 C327.33,1127.72 331.5,1128.92 336,1129.9 C340.5,1130.88 345,1132.37 349,1133.4 C353,1134.43 356.83,1135.35 360,1136.1 C363.17,1136.85 363.67,1136.95 368,1137.9 C372.33,1138.85 380,1140.6 386,1141.8 C392,1143 398,1144.12 404,1145.1 C410,1146.08 416.17,1146.72 422,1147.7 C427.83,1148.68 433.17,1150.18 439,1151 C444.83,1151.82 451,1152.17 457,1152.6 C463,1153.03 469,1153.28 475,1153.6 C481,1153.92 487,1154.28 493,1154.5 C499,1154.72 505,1154.75 511,1154.9 C517,1155.05 523,1155.1 529,1155.4 C535,1155.7 541,1156.25 547,1156.7 C553,1157.15 559.17,1157.8 565,1158.1 C570.83,1158.4 576.17,1158.53 582,1158.5 C587.83,1158.47 594,1158.2 600,1157.9 C606,1157.6 612,1157.35 618,1156.7 C624,1156.05 630,1154.9 636,1154 C642,1153.1 648,1152.2 654,1151.3 C660,1150.4 666,1149.88 672,1148.6 C678,1147.32 683.67,1145.23 690,1143.6 C696.33,1141.97 705.33,1139.82 710,1138.8 C714.67,1137.78 713.67,1138.98 718,1137.5 C722.33,1136.02 730,1132.37 736,1129.9 C742,1127.43 746.83,1125.18 754,1122.7 C761.17,1120.22 773.17,1116.1 779,1115 C784.83,1113.9 784.33,1115.57 789,1116.1 C793.67,1116.63 801,1117.25 807,1118.2 C813,1119.15 819,1119.85 825,1121.8 C831,1123.75 837,1127.07 843,1129.9 C849,1132.73 855,1135.98 861,1138.8 C867,1141.62 873,1145.17 879,1146.8 C885,1148.43 891,1148.3 897,1148.6 C903,1148.9 909.17,1148.75 915,1148.6 C920.83,1148.45 926.17,1148.28 932,1147.7 C937.83,1147.12 944,1145.9 950,1145.1 C956,1144.3 962,1143.57 968,1142.9 C974,1142.23 980,1141.28 986,1141.1 C992,1140.92 998,1141.58 1004,1141.8 C1010,1142.02 1016,1142.1 1022,1142.4 C1028,1142.7 1033.67,1143.02 1040,1143.6 C1046.33,1144.18 1055.33,1145.43 1060,1145.9 C1064.67,1146.37 1063.5,1146.37 1068,1146.4 C1072.5,1146.43 1080.83,1146 1087,1146.1 C1093.17,1146.2 1099,1146.88 1105,1147 C1111,1147.12 1116.83,1147.2 1123,1146.8 C1129.17,1146.4 1135.83,1145.58 1142,1144.6 C1148.17,1143.62 1153.83,1142.07 1160,1140.9 C1166.17,1139.73 1172.83,1138.58 1179,1137.6 C1185.17,1136.62 1191,1135.62 1197,1135 C1203,1134.38 1208.83,1133.83 1215,1133.9 C1221.17,1133.97 1227.83,1134.23 1234,1135.4 C1240.17,1136.57 1246,1139.07 1252,1140.9 C1258,1142.73 1263.83,1144.93 1270,1146.4 C1276.17,1147.87 1282.83,1149.02 1289,1149.7 C1295.17,1150.38 1300.83,1150.37 1307,1150.5 C1313.17,1150.63 1319.83,1151.02 1326,1150.5 C1332.17,1149.98 1338,1147.92 1344,1147.4 C1350,1146.88 1355.83,1147.1 1362,1147.4 C1368.17,1147.7 1374.33,1148.82 1381,1149.2 C1387.67,1149.58 1398.5,1149.62 1402,1149.7" fill="none" stroke="#f0e196" stroke-width="2" stroke-linejoin="round" stroke-linecap="round" />
<defs><clipPath id="ob"><rect x="10" y="1094" width="1908" height="20.3"/></clipPath><clipPath id="os"><rect x="10" y="1169.2" width="1908" height="11"/></clipPath></defs>
<path d="M10,1114.3 L10,1156.7 L13.1,1148.6 L20.45,1151.8 L27.8,1145.1 L35.14,1140.9 L42.49,1146.3 L49.84,1146.8 L57.19,1150.4 L64.53,1148.1 L71.88,1148.3 L79.23,1141.5 L86.57,1140.6 L93.92,1140.2 L101.27,1140.2 L108.62,1125 L115.97,1125 L123.31,1122.2 L130.66,1118.8 L138.01,1119.1 L145.35,1132.2 L152.7,1128.4 L160.05,1133.4 L167.4,1137 L174.75,1132.9 L182.09,1134 L189.44,1142.4 L196.79,1147.2 L204.13,1146.5 L211.48,1145.6 L218.83,1144.2 L226.18,1121.8 L233.53,1115.6 L240.87,1103.4 L248.22,1119.5 L255.57,1121.5 L262.92,1117.7 L270.26,1126.3 L277.61,1134.7 L284.96,1137.9 L292.31,1141.8 L299.65,1134.3 L307,1137.9 L314.35,1138.3 L321.7,1136.1 L329.04,1129.9 L336.39,1142.4 L343.74,1141.8 L351.09,1140.8 L358.43,1141.8 L365.78,1141.5 L373.13,1142.4 L380.48,1147.2 L387.82,1158.5 L395.17,1157.6 L402.52,1155.8 L409.87,1152.2 L417.21,1154 L424.56,1156.3 L431.91,1164.2 L439.26,1157.9 L446.6,1153.1 L453.95,1155.4 L461.3,1145.9 L468.65,1142.9 L475.99,1148.3 L483.34,1155.8 L490.69,1156.7 L498.04,1157.2 L505.38,1157.6 L512.73,1159.7 L520.08,1162.6 L527.43,1160.8 L534.77,1161.7 L542.12,1165.1 L549.47,1169.2 L556.82,1172.2 L564.16,1152.6 L571.51,1150.4 L578.86,1151.3 L586.21,1156.7 L593.55,1154.5 L600.9,1150.4 L608.25,1144.5 L615.6,1150.8 L622.94,1154.3 L630.29,1143.3 L637.64,1142.4 L644.99,1148.6 L652.33,1148.1 L659.68,1142.4 L667.03,1145.4 L674.38,1141.8 L681.72,1133.1 L689.07,1121.8 L696.42,1122.7 L703.76,1124.1 L711.11,1123.1 L718.46,1124.1 L725.81,1118.2 L733.16,1112 L740.5,1111.1 L747.85,1108.9 L755.2,1107.2 L762.55,1102.5 L769.89,1103.4 L777.24,1103.9 L784.59,1136.1 L791.94,1140 L799.28,1134 L806.63,1135.8 L813.98,1133.1 L821.33,1145.1 L828.67,1147.7 L836.02,1151.3 L843.37,1156.1 L850.72,1159.7 L858.06,1162.6 L865.41,1155.8 L872.76,1150.4 L880.11,1155.4 L887.45,1151 L894.8,1143.3 L902.15,1137.9 L909.5,1132.2 L916.84,1134.7 L924.19,1143.3 L931.54,1136.1 L938.88,1131.6 L946.23,1144.2 L953.58,1145.1 L960.93,1142.9 L968.28,1142.9 L975.62,1147.2 L982.97,1154 L990.32,1147.2 L997.67,1149.2 L1005.01,1136.5 L1012.36,1137.9 L1019.71,1141.5 L1027.06,1152.2 L1034.4,1145.9 L1041.75,1146.5 L1049.1,1144.2 L1056.44,1149.4 L1063.79,1147.9 L1071.14,1149.6 L1078.49,1150.5 L1085.84,1145 L1093.18,1144.2 L1100.53,1149.6 L1107.88,1145 L1115.22,1146.8 L1122.57,1143.1 L1129.92,1136.9 L1137.27,1136.3 L1144.62,1133.6 L1151.96,1130.8 L1159.31,1122.2 L1166.66,1117.4 L1174,1129 L1181.35,1139.6 L1188.7,1138.5 L1196.05,1133.6 L1203.39,1135.8 L1210.74,1143.7 L1218.09,1143.1 L1225.44,1146.1 L1232.78,1154.2 L1240.13,1154.7 L1247.48,1154.2 L1254.83,1160.8 L1262.17,1155.3 L1269.52,1156.5 L1276.87,1152.3 L1284.22,1152.9 L1291.56,1155.3 L1298.91,1142.8 L1306.26,1138.5 L1313.61,1138.5 L1320.95,1143.7 L1328.3,1142.2 L1335.65,1134.9 L1343,1146.8 L1350.35,1144.6 L1357.69,1149.6 L1365.04,1172.5 L1372.39,1169.4 L1379.73,1158.4 L1387.08,1151.6 L1394.43,1155.3 L1401.78,1155.3 L1401.78,1114.3 Z" fill="#ecf5e8" clip-path="url(#ob)"/>
<path d="M10,1169.2 L10,1156.7 L13.1,1148.6 L20.45,1151.8 L27.8,1145.1 L35.14,1140.9 L42.49,1146.3 L49.84,1146.8 L57.19,1150.4 L64.53,1148.1 L71.88,1148.3 L79.23,1141.5 L86.57,1140.6 L93.92,1140.2 L101.27,1140.2 L108.62,1125 L115.97,1125 L123.31,1122.2 L130.66,1118.8 L138.01,1119.1 L145.35,1132.2 L152.7,1128.4 L160.05,1133.4 L167.4,1137 L174.75,1132.9 L182.09,1134 L189.44,1142.4 L196.79,1147.2 L204.13,1146.5 L211.48,1145.6 L218.83,1144.2 L226.18,1121.8 L233.53,1115.6 L240.87,1103.4 L248.22,1119.5 L255.57,1121.5 L262.92,1117.7 L270.26,1126.3 L277.61,1134.7 L284.96,1137.9 L292.31,1141.8 L299.65,1134.3 L307,1137.9 L314.35,1138.3 L321.7,1136.1 L329.04,1129.9 L336.39,1142.4 L343.74,1141.8 L351.09,1140.8 L358.43,1141.8 L365.78,1141.5 L373.13,1142.4 L380.48,1147.2 L387.82,1158.5 L395.17,1157.6 L402.52,1155.8 L409.87,1152.2 L417.21,1154 L424.56,1156.3 L431.91,1164.2 L439.26,1157.9 L446.6,1153.1 L453.95,1155.4 L461.3,1145.9 L468.65,1142.9 L475.99,1148.3 L483.34,1155.8 L490.69,1156.7 L498.04,1157.2 L505.38,1157.6 L512.73,1159.7 L520.08,1162.6 L527.43,1160.8 L534.77,1161.7 L542.12,1165.1 L549.47,1169.2 L556.82,1172.2 L564.16,1152.6 L571.51,1150.4 L578.86,1151.3 L586.21,1156.7 L593.55,1154.5 L600.9,1150.4 L608.25,1144.5 L615.6,1150.8 L622.94,1154.3 L630.29,1143.3 L637.64,1142.4 L644.99,1148.6 L652.33,1148.1 L659.68,1142.4 L667.03,1145.4 L674.38,1141.8 L681.72,1133.1 L689.07,1121.8 L696.42,1122.7 L703.76,1124.1 L711.11,1123.1 L718.46,1124.1 L725.81,1118.2 L733.16,1112 L740.5,1111.1 L747.85,1108.9 L755.2,1107.2 L762.55,1102.5 L769.89,1103.4 L777.24,1103.9 L784.59,1136.1 L791.94,1140 L799.28,1134 L806.63,1135.8 L813.98,1133.1 L821.33,1145.1 L828.67,1147.7 L836.02,1151.3 L843.37,1156.1 L850.72,1159.7 L858.06,1162.6 L865.41,1155.8 L872.76,1150.4 L880.11,1155.4 L887.45,1151 L894.8,1143.3 L902.15,1137.9 L909.5,1132.2 L916.84,1134.7 L924.19,1143.3 L931.54,1136.1 L938.88,1131.6 L946.23,1144.2 L953.58,1145.1 L960.93,1142.9 L968.28,1142.9 L975.62,1147.2 L982.97,1154 L990.32,1147.2 L997.67,1149.2 L1005.01,1136.5 L1012.36,1137.9 L1019.71,1141.5 L1027.06,1152.2 L1034.4,1145.9 L1041.75,1146.5 L1049.1,1144.2 L1056.44,1149.4 L1063.79,1147.9 L1071.14,1149.6 L1078.49,1150.5 L1085.84,1145 L1093.18,1144.2 L1100.53,1149.6 L1107.88,1145 L1115.22,1146.8 L1122.57,1143.1 L1129.92,1136.9 L1137.27,1136.3 L1144.62,1133.6 L1151.96,1130.8 L1159.31,1122.2 L1166.66,1117.4 L1174,1129 L1181.35,1139.6 L1188.7,1138.5 L1196.05,1133.6 L1203.39,1135.8 L1210.74,1143.7 L1218.09,1143.1 L1225.44,1146.1 L1232.78,1154.2 L1240.13,1154.7 L1247.48,1154.2 L1254.83,1160.8 L1262.17,1155.3 L1269.52,1156.5 L1276.87,1152.3 L1284.22,1152.9 L1291.56,1155.3 L1298.91,1142.8 L1306.26,1138.5 L1313.61,1138.5 L1320.95,1143.7 L1328.3,1142.2 L1335.65,1134.9 L1343,1146.8 L1350.35,1144.6 L1357.69,1149.6 L1365.04,1172.5 L1372.39,1169.4 L1379.73,1158.4 L1387.08,1151.6 L1394.43,1155.3 L1401.78,1155.3 L1401.78,1169.2 Z" fill="#f8eaec" clip-path="url(#os)"/>
<polyline points="10,1156.7 13.1,1148.6 20.45,1151.8 27.8,1145.1 35.14,1140.9 42.49,1146.3 49.84,1146.8 57.19,1150.4 64.53,1148.1 71.88,1148.3 79.23,1141.5 86.57,1140.6 93.92,1140.2 101.27,1140.2 108.62,1125 115.97,1125 123.31,1122.2 130.66,1118.8 138.01,1119.1 145.35,1132.2 152.7,1128.4 160.05,1133.4 167.4,1137 174.75,1132.9 182.09,1134 189.44,1142.4 196.79,1147.2 204.13,1146.5 211.48,1145.6 218.83,1144.2 226.18,1121.8 233.53,1115.6 240.87,1103.4 248.22,1119.5 255.57,1121.5 262.92,1117.7 270.26,1126.3 277.61,1134.7 284.96,1137.9 292.31,1141.8 299.65,1134.3 307,1137.9 314.35,1138.3 321.7,1136.1 329.04,1129.9 336.39,1142.4 343.74,1141.8 351.09,1140.8 358.43,1141.8 365.78,1141.5 373.13,1142.4 380.48,1147.2 387.82,1158.5 395.17,1157.6 402.52,1155.8 409.87,1152.2 417.21,1154 424.56,1156.3 431.91,1164.2 439.26,1157.9 446.6,1153.1 453.95,1155.4 461.3,1145.9 468.65,1142.9 475.99,1148.3 483.34,1155.8 490.69,1156.7 498.04,1157.2 505.38,1157.6 512.73,1159.7 520.08,1162.6 527.43,1160.8 534.77,1161.7 542.12,1165.1 549.47,1169.2 556.82,1172.2 564.16,1152.6 571.51,1150.4 578.86,1151.3 586.21,1156.7 593.55,1154.5 600.9,1150.4 608.25,1144.5 615.6,1150.8 622.94,1154.3 630.29,1143.3 637.64,1142.4 644.99,1148.6 652.33,1148.1 659.68,1142.4 667.03,1145.4 674.38,1141.8 681.72,1133.1 689.07,1121.8 696.42,1122.7 703.76,1124.1 711.11,1123.1 718.46,1124.1 725.81,1118.2 733.16,1112 740.5,1111.1 747.85,1108.9 755.2,1107.2 762.55,1102.5 769.89,1103.4 777.24,1103.9 784.59,1136.1 791.94,1140 799.28,1134 806.63,1135.8 813.98,1133.1 821.33,1145.1 828.67,1147.7 836.02,1151.3 843.37,1156.1 850.72,1159.7 858.06,1162.6 865.41,1155.8 872.76,1150.4 880.11,1155.4 887.45,1151 894.8,1143.3 902.15,1137.9 909.5,1132.2 916.84,1134.7 924.19,1143.3 931.54,1136.1 938.88,1131.6 946.23,1144.2 953.58,1145.1 960.93,1142.9 968.28,1142.9 975.62,1147.2 982.97,1154 990.32,1147.2 997.67,1149.2 1005.01,1136.5 1012.36,1137.9 1019.71,1141.5 1027.06,1152.2 1034.4,1145.9 1041.75,1146.5 1049.1,1144.2 1056.44,1149.4 1063.79,1147.9 1071.14,1149.6 1078.49,1150.5 1085.84,1145 1093.18,1144.2 1100.53,1149.6 1107.88,1145 1115.22,1146.8 1122.57,1143.1 1129.92,1136.9 1137.27,1136.3 1144.62,1133.6 1151.96,1130.8 1159.31,1122.2 1166.66,1117.4 1174,1129 1181.35,1139.6 1188.7,1138.5 1196.05,1133.6 1203.39,1135.8 1210.74,1143.7 1218.09,1143.1 1225.44,1146.1 1232.78,1154.2 1240.13,1154.7 1247.48,1154.2 1254.83,1160.8 1262.17,1155.3 1269.52,1156.5 1276.87,1152.3 1284.22,1152.9 1291.56,1155.3 1298.91,1142.8 1306.26,1138.5 1313.61,1138.5 1320.95,1143.7 1328.3,1142.2 1335.65,1134.9 1343,1146.8 1350.35,1144.6 1357.69,1149.6 1365.04,1172.5 1372.39,1169.4 1379.73,1158.4 1387.08,1151.6 1394.43,1155.3 1401.78,1155.3" fill="none" stroke="#66569a" stroke-width="1.1" stroke-linejoin="round" stroke-linecap="round" />
</g>
<text x="10.4" y="18.9" font-size="13" fill="#131722" font-weight="normal" text-anchor="start" textLength="388.6" lengthAdjust="spacingAndGlyphs" >arman_shirinyan created with TradingView.com, Oct 15, 2025 07:26 UTC</text>
<text x="17.9" y="45.7" font-size="12.5" fill="#131722" font-weight="normal" text-anchor="start" textLength="163.8" lengthAdjust="spacingAndGlyphs" >SHIB / TetherUS · 1D · Binance</text>
<text x="190.1" y="45.7" font-size="12.5" fill="#131722" font-weight="normal" text-anchor="start" textLength="7.2" lengthAdjust="spacingAndGlyphs" >O</text>
<text x="197.9" y="45.7" font-size="12.5" fill="#e04c5a" font-weight="normal" text-anchor="start" textLength="60.8" lengthAdjust="spacingAndGlyphs" >0.00001074</text>
<text x="266.4" y="45.7" font-size="12.5" fill="#131722" font-weight="normal" text-anchor="start" textLength="7" lengthAdjust="spacingAndGlyphs" >H</text>
<text x="274.2" y="45.7" font-size="12.5" fill="#e04c5a" font-weight="normal" text-anchor="start" textLength="60.1" lengthAdjust="spacingAndGlyphs" >0.00001079</text>
<text x="342.7" y="45.7" font-size="12.5" fill="#131722" font-weight="normal" text-anchor="start" textLength="5.6" lengthAdjust="spacingAndGlyphs" >L</text>
<text x="349.2" y="45.7" font-size="12.5" fill="#e04c5a" font-weight="normal" text-anchor="start" textLength="58.4" lengthAdjust="spacingAndGlyphs" >0.00001061</text>
<text x="416.4" y="45.7" font-size="12.5" fill="#131722" font-weight="normal" text-anchor="start" textLength="6.6" lengthAdjust="spacingAndGlyphs" >C</text>
<text x="423.5" y="45.7" font-size="12.5" fill="#e04c5a" font-weight="normal" text-anchor="start" textLength="60.6" lengthAdjust="spacingAndGlyphs" >0.00001072</text>
<text x="492.8" y="45.7" font-size="12.5" fill="#e04c5a" font-weight="normal" text-anchor="start" textLength="65.6" lengthAdjust="spacingAndGlyphs" >−0.00000002</text>
<text x="563.8" y="45.7" font-size="12.5" fill="#e04c5a" font-weight="normal" text-anchor="start" textLength="43.7" lengthAdjust="spacingAndGlyphs" >(−0.19%)</text>
<text x="1927" y="1073.8" font-size="12.5" fill="#131722" font-weight="normal" text-anchor="start" textLength="61" lengthAdjust="spacingAndGlyphs" >0.00000600</text>
<text x="1927" y="1033.8" font-size="12.5" fill="#131722" font-weight="normal" text-anchor="start" textLength="61" lengthAdjust="spacingAndGlyphs" >0.00000650</text>
<text x="1927" y="993.8" font-size="12.5" fill="#131722" font-weight="normal" text-anchor="start" textLength="61" lengthAdjust="spacingAndGlyphs" >0.00000700</text>
<text x="1927" y="953.8" font-size="12.5" fill="#131722" font-weight="normal" text-anchor="start" textLength="61" lengthAdjust="spacingAndGlyphs" >0.00000750</text>
<text x="1927" y="913.8" font-size="12.5" fill="#131722" font-weight="normal" text-anchor="start" textLength="61" lengthAdjust="spacingAndGlyphs" >0.00000800</text>
<text x="1927" y="873.8" font-size="12.5" fill="#131722" font-weight="normal" text-anchor="start" textLength="61" lengthAdjust="spacingAndGlyphs" >0.00000850</text>
<text x="1927" y="832.8" font-size="12.5" fill="#131722" font-weight="normal" text-anchor="start" textLength="61" lengthAdjust="spacingAndGlyphs" >0.00000900</text>
<text x="1927" y="792.8" font-size="12.5" fill="#131722" font-weight="normal" text-anchor="start" textLength="61" lengthAdjust="spacingAndGlyphs" >0.00000950</text>
<text x="1927" y="752.8" font-size="12.5" fill="#131722" font-weight="normal" text-anchor="start" textLength="61" lengthAdjust="spacingAndGlyphs" >0.00001000</text>
<text x="1927" y="672.8" font-size="12.5" fill="#131722" font-weight="normal" text-anchor="start" textLength="61" lengthAdjust="spacingAndGlyphs" >0.00001100</text>
<text x="1927" y="632.8" font-size="12.5" fill="#131722" font-weight="normal" text-anchor="start" textLength="61" lengthAdjust="spacingAndGlyphs" >0.00001150</text>
<text x="1927" y="591.8" font-size="12.5" fill="#131722" font-weight="normal" text-anchor="start" textLength="61" lengthAdjust="spacingAndGlyphs" >0.00001200</text>
<text x="1927" y="511.8" font-size="12.5" fill="#131722" font-weight="normal" text-anchor="start" textLength="61" lengthAdjust="spacingAndGlyphs" >0.00001300</text>
<text x="1927" y="471.8" font-size="12.5" fill="#131722" font-weight="normal" text-anchor="start" textLength="61" lengthAdjust="spacingAndGlyphs" >0.00001350</text>
<text x="1927" y="431.8" font-size="12.5" fill="#131722" font-weight="normal" text-anchor="start" textLength="61" lengthAdjust="spacingAndGlyphs" >0.00001400</text>
<text x="1927" y="391.8" font-size="12.5" fill="#131722" font-weight="normal" text-anchor="start" textLength="61" lengthAdjust="spacingAndGlyphs" >0.00001450</text>
<text x="1927" y="350.8" font-size="12.5" fill="#131722" font-weight="normal" text-anchor="start" textLength="61" lengthAdjust="spacingAndGlyphs" >0.00001500</text>
<text x="1927" y="310.8" font-size="12.5" fill="#131722" font-weight="normal" text-anchor="start" textLength="61" lengthAdjust="spacingAndGlyphs" >0.00001550</text>
<text x="1927" y="270.8" font-size="12.5" fill="#131722" font-weight="normal" text-anchor="start" textLength="61" lengthAdjust="spacingAndGlyphs" >0.00001600</text>
<text x="1927" y="230.8" font-size="12.5" fill="#131722" font-weight="normal" text-anchor="start" textLength="61" lengthAdjust="spacingAndGlyphs" >0.00001650</text>
<text x="1927" y="190.8" font-size="12.5" fill="#131722" font-weight="normal" text-anchor="start" textLength="61" lengthAdjust="spacingAndGlyphs" >0.00001700</text>
<text x="1927" y="150.8" font-size="12.5" fill="#131722" font-weight="normal" text-anchor="start" textLength="61" lengthAdjust="spacingAndGlyphs" >0.00001750</text>
<text x="1927" y="109.8" font-size="12.5" fill="#131722" font-weight="normal" text-anchor="start" textLength="61" lengthAdjust="spacingAndGlyphs" >0.00001800</text>
<text x="1927" y="69.8" font-size="12.5" fill="#131722" font-weight="normal" text-anchor="start" textLength="61" lengthAdjust="spacingAndGlyphs" >0.00001850</text>
<text x="1927" y="1112.3" font-size="12.5" fill="#131722" font-weight="normal" text-anchor="start" textLength="30" lengthAdjust="spacingAndGlyphs" >75.00</text>
<text x="1927" y="1180.6" font-size="12.5" fill="#131722" font-weight="normal" text-anchor="start" textLength="30" lengthAdjust="spacingAndGlyphs" >25.00</text>
<text x="175.5" y="1199" font-size="12.5" fill="#131722" font-weight="bold" text-anchor="middle" >May</text>
<text x="403.5" y="1199" font-size="12.5" fill="#131722" font-weight="bold" text-anchor="middle" >Jun</text>
<text x="623.5" y="1199" font-size="12.5" fill="#131722" font-weight="bold" text-anchor="middle" >Jul</text>
<text x="851.5" y="1199" font-size="12.5" fill="#131722" font-weight="bold" text-anchor="middle" >Aug</text>
<text x="1079.5" y="1199" font-size="12.5" fill="#131722" font-weight="bold" text-anchor="middle" >Sep</text>
<text x="1299.5" y="1199" font-size="12.5" fill="#131722" font-weight="bold" text-anchor="middle" >Oct</text>
<text x="1527.5" y="1199" font-size="12.5" fill="#131722" font-weight="bold" text-anchor="middle" >Nov</text>
<text x="1747.5" y="1199" font-size="12.5" fill="#131722" font-weight="bold" text-anchor="middle" >Dec</text>
<rect x="1919" y="471.3" width="74.7" height="16.3" fill="#000000" rx="1.2"/>
<text x="1927" y="483.75" font-size="12.5" fill="#ffffff" font-weight="bold" text-anchor="start" textLength="61" lengthAdjust="spacingAndGlyphs" >0.00001336</text>
<rect x="1919" y="536.2" width="74.7" height="16.3" fill="#f7931a" rx="1.2"/>
<text x="1927" y="548.65" font-size="12.5" fill="#131722" font-weight="normal" text-anchor="start" textLength="61" lengthAdjust="spacingAndGlyphs" >0.00001253</text>
<rect x="1919" y="552.5" width="74.7" height="17" fill="#5b9cf6" rx="1.2"/>
<text x="1927" y="565.3" font-size="12.5" fill="#131722" font-weight="normal" text-anchor="start" textLength="61" lengthAdjust="spacingAndGlyphs" >0.00001232</text>
<rect x="1919" y="601" width="74.7" height="16.6" fill="#0c8418" rx="1.2"/>
<text x="1927" y="613.6" font-size="12.5" fill="#d2f7cb" font-weight="bold" text-anchor="start" textLength="61" lengthAdjust="spacingAndGlyphs" >0.00001173</text>
<rect x="1919" y="682" width="74.7" height="30.6" fill="#f23645" rx="2"/>
<text x="1926.6" y="694.6" font-size="12.5" fill="#ffffff" font-weight="bold" text-anchor="start" textLength="60.6" lengthAdjust="spacingAndGlyphs" >0.00001072</text>
<text x="1928.2" y="708.5" font-size="12.5" fill="#ffffff" font-weight="bold" text-anchor="start" textLength="44.9" lengthAdjust="spacingAndGlyphs" >16:33:02</text>
<rect x="1858.2" y="682.1" width="60" height="16.3" fill="#f23645" rx="2"/>
<text x="1862.3" y="694.6" font-size="12.5" fill="#ffffff" font-weight="bold" text-anchor="start" textLength="51.2" lengthAdjust="spacingAndGlyphs" >SHIBUSDT</text>
<rect x="1919" y="1077.2" width="57.8" height="15.7" fill="#ef5350"/>
<text x="1926" y="1089.3" font-size="12.5" fill="#ffffff" font-weight="bold" text-anchor="start" textLength="44" lengthAdjust="spacingAndGlyphs" >190.11 B</text>
<rect x="1919" y="1130.8" width="42.8" height="16.5" fill="#f7e03c" rx="2"/>
<text x="1927" y="1143.4" font-size="12.5" fill="#131722" font-weight="normal" text-anchor="start" textLength="30" lengthAdjust="spacingAndGlyphs" >43.81</text>
<rect x="1919" y="1147.3" width="42.8" height="17.3" fill="#7e57c2" rx="2"/>
<text x="1927" y="1160.3" font-size="12.5" fill="#ffffff" font-weight="bold" text-anchor="start" textLength="30" lengthAdjust="spacingAndGlyphs" >39.91</text>
<path d="M11.9,1231 H23.8 V1245.9 H17.6 V1236.8 H11.9 Z" fill="#131722"/>
<circle cx="29.1" cy="1233.9" r="2.8" fill="#131722"/>
<path d="M33.6,1231 H41.5 L36.9,1245.9 H29.1 Z" fill="#131722"/>
<text x="49.4" y="1245.9" font-size="20" fill="#131722" font-weight="bold" text-anchor="start" textLength="119.9" lengthAdjust="spacingAndGlyphs" >TradingView</text>
</svg>
</body></html>
